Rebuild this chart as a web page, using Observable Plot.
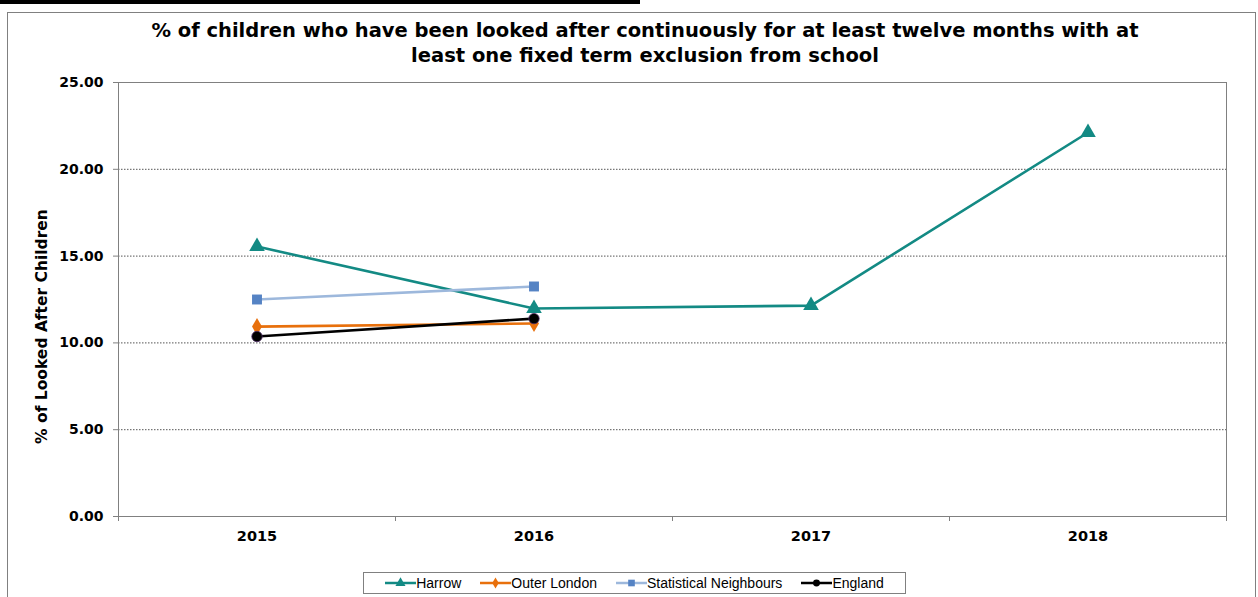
<!DOCTYPE html>
<html>
<head>
<meta charset="utf-8">
<script src="https://cdn.jsdelivr.net/npm/d3@7"></script>
<script src="https://cdn.jsdelivr.net/npm/@observablehq/plot@0.6"></script>
<style>
  html, body { margin: 0; padding: 0; background: #fff; }
  #wrap { position: relative; width: 1258px; height: 597px; overflow: hidden; font-family: "DejaVu Sans", Verdana, sans-serif; }
  #topbar { position: absolute; left: 0; top: 0; width: 640px; height: 4px; background: #000; }
  #frame { position: absolute; left: 7px; top: 12px; width: 1249px; height: 600px; border: 1px solid #808080; box-sizing: border-box; }
  #title { position: absolute; left: 95px; width: 1100px; top: 18px; text-align: center; font-weight: bold; font-size: 19.5px; line-height: 25px; color: #000; }
  #chart { position: absolute; left: 0; top: 70px; }
  #legend { position: absolute; left: 363px; top: 572px; width: 543px; height: 22px; border: 1px solid #808080; box-sizing: border-box; display: flex; align-items: center; justify-content: center; font-family: "Liberation Sans", Arial, sans-serif; font-size: 14px; color: #000; }
  .item { display: flex; align-items: center; margin: 0 9.5px; }
  .item svg { margin-right: 0px; }
</style>
</head>
<body>
<div id="wrap">
  <div id="topbar"></div>
  <div id="frame"></div>
  <div id="title">% of children who have been looked after continuously for at least twelve months with at<br>least one fixed term exclusion from school</div>
  <div id="chart"></div>
  <div id="legend"></div>
</div>
<script>
const years = [2015, 2016, 2017, 2018];
const harrow = [15.55, 11.98, 12.15, 22.12];
const outerLondon = [10.94, 11.12];
const statNeighbours = [12.50, 13.25];
const england = [10.37, 11.40];
const yTicks = [0, 5, 10, 15, 20, 25];
const gridTicks = [5, 10, 15, 20];
const xBounds = [2014.5, 2015.5, 2016.5, 2017.5, 2018.5];
const seriesNames = ["Harrow", "Outer London", "Statistical Neighbours", "England"];

const colors = {
  "Harrow": {line: "#138a84", mark: "#138a84", symbol: "triangle", r: 5.8},
  "Outer London": {line: "#e8700c", mark: "#e8700c", symbol: "diamond", r: 5.2},
  "Statistical Neighbours": {line: "#9db8dc", mark: "#5583c4", symbol: "square", r: 5.6},
  "England": {line: "#000000", mark: "#000000", symbol: "circle", r: 5.2}
};

const seriesValues = [harrow, outerLondon, statNeighbours, england];
const rows = [];
seriesNames.forEach((s, i) => seriesValues[i].forEach((v, j) => rows.push({series: s, year: years[j], value: v})));

const marks = [
  Plot.ruleY(gridTicks, {stroke: "#555", strokeWidth: 1, strokeDasharray: "1.5,1.5"}),
  Plot.frame({stroke: "#808080"}),
  Plot.axisY({ticks: yTicks, tickFormat: d3.format(".2f"), tickSize: 5, tickPadding: 10, fontWeight: "bold", fontSize: 14, label: null, stroke: "#808080"}),
  Plot.axisX({ticks: years, tickFormat: d => String(d), tickSize: 0, tickPadding: 14, fontWeight: "bold", fontSize: 14.5, label: null}),
  Plot.axisX({ticks: xBounds, tickFormat: () => "", tickSize: 5, label: null, stroke: "#808080"}),
  Plot.text(["% of Looked After Children"], {frameAnchor: "left", textAnchor: "middle", dx: -76, dy: 27, rotate: -90, fontWeight: "bold", fontSize: 15.5, fill: "#000"})
];
for (const s of seriesNames) {
  const c = colors[s];
  const d = rows.filter(r => r.series === s);
  marks.push(Plot.line(d, {x: "year", y: "value", stroke: c.line, strokeWidth: 2.6}));
}
for (const s of seriesNames) {
  const c = colors[s];
  const d = rows.filter(r => r.series === s);
  marks.push(Plot.dot(d, {x: "year", y: "value", symbol: () => c.symbol, fill: c.mark, stroke: s === "England" ? "#4b2a63" : "none", strokeWidth: 0.8, r: c.r}));
}

const chart = Plot.plot({
  width: 1258,
  height: 490,
  marginLeft: 118,
  marginRight: 32,
  marginTop: 12,
  marginBottom: 44,
  style: {fontFamily: "'DejaVu Sans', Verdana, sans-serif", color: "#000", background: "transparent"},
  x: {domain: [xBounds[0], xBounds[xBounds.length - 1]], axis: null},
  y: {domain: [0, 25], axis: null},
  symbol: {type: "identity"},
  marks
});
document.getElementById("chart").appendChild(chart);

// Legend
const legend = document.getElementById("legend");
const symPaths = {
  triangle: d3.symbol(d3.symbolTriangle, 44)(),
  diamond: d3.symbol(d3.symbolDiamond, 36)(),
  square: d3.symbol(d3.symbolSquare, 44)(),
  circle: d3.symbol(d3.symbolCircle, 38)()
};
for (const s of seriesNames) {
  const c = colors[s];
  const item = document.createElement("div");
  item.className = "item";
  item.innerHTML = `<svg width="31" height="12" viewBox="0 0 31 12"><line x1="0" x2="31" y1="6" y2="6" stroke="${c.line}" stroke-width="2.5"/><path d="${symPaths[c.symbol]}" transform="translate(15.5,6)" fill="${c.mark}"/></svg><span>${s}</span>`;
  legend.appendChild(item);
}
</script>
</body>
</html>
